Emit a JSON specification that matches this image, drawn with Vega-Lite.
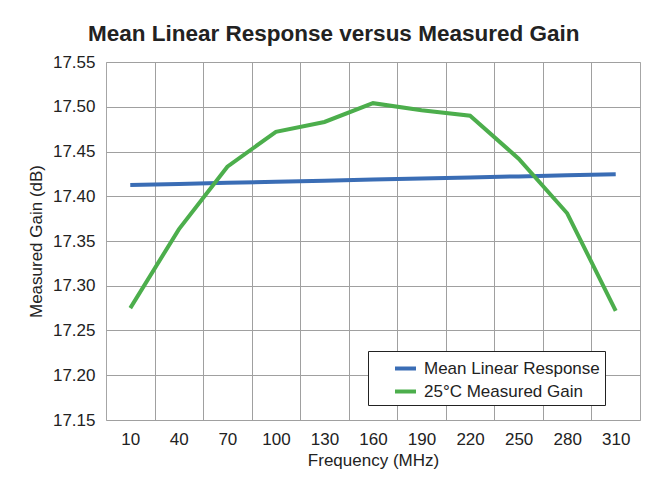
{
  "$schema": "https://vega.github.io/schema/vega-lite/v6.json",
  "width": 534,
  "height": 358,
  "autosize": {"type": "none"},
  "padding": {"left": 106, "top": 62, "right": 26, "bottom": 57},
  "background": "white",
  "config": {
    "font": "Liberation Sans",
    "view": {"stroke": "#a6a6a6", "strokeWidth": 1},
    "axis": {"labelFont": "Liberation Sans", "titleFont": "Liberation Sans", "labelColor": "#222222", "titleColor": "#222222", "gridColor": "#a0a0a0", "gridOpacity": 1, "gridWidth": 1}
  },
  "title": {"text": "Mean Linear Response versus Measured Gain", "fontSize": 22.5, "fontWeight": "bold", "font": "Liberation Sans", "color": "#222222", "anchor": "middle", "frame": "bounds", "offset": 8},
  "data": {"values": [
    {"freq": 10, "series": "Mean Linear Response", "gain": 17.4126},
    {"freq": 40, "series": "Mean Linear Response", "gain": 17.4138},
    {"freq": 70, "series": "Mean Linear Response", "gain": 17.4150},
    {"freq": 100, "series": "Mean Linear Response", "gain": 17.4162},
    {"freq": 130, "series": "Mean Linear Response", "gain": 17.4174},
    {"freq": 160, "series": "Mean Linear Response", "gain": 17.4186},
    {"freq": 190, "series": "Mean Linear Response", "gain": 17.4198},
    {"freq": 220, "series": "Mean Linear Response", "gain": 17.4210},
    {"freq": 250, "series": "Mean Linear Response", "gain": 17.4222},
    {"freq": 280, "series": "Mean Linear Response", "gain": 17.4234},
    {"freq": 310, "series": "Mean Linear Response", "gain": 17.4246},
    {"freq": 10, "series": "25°C Measured Gain", "gain": 17.275},
    {"freq": 40, "series": "25°C Measured Gain", "gain": 17.363},
    {"freq": 70, "series": "25°C Measured Gain", "gain": 17.433},
    {"freq": 100, "series": "25°C Measured Gain", "gain": 17.472},
    {"freq": 130, "series": "25°C Measured Gain", "gain": 17.483},
    {"freq": 160, "series": "25°C Measured Gain", "gain": 17.504},
    {"freq": 190, "series": "25°C Measured Gain", "gain": 17.496},
    {"freq": 220, "series": "25°C Measured Gain", "gain": 17.490},
    {"freq": 250, "series": "25°C Measured Gain", "gain": 17.442},
    {"freq": 280, "series": "25°C Measured Gain", "gain": 17.381},
    {"freq": 310, "series": "25°C Measured Gain", "gain": 17.272}
  ]},
  "layer": [
    {
      "mark": {"type": "line", "strokeWidth": 4, "clip": false},
      "encoding": {
        "x": {"field": "freq", "type": "quantitative", "scale": {"domain": [-5, 325], "nice": false, "zero": false},
              "axis": {"values": [10, 40, 70, 100, 130, 160, 190, 220, 250, 280, 310], "grid": false, "ticks": false, "domain": false, "labelFontSize": 17, "labelPadding": 11, "title": "Frequency (MHz)", "titleFontSize": 17, "titleFontWeight": "normal", "titlePadding": 5, "orient": "bottom"}},
        "y": {"field": "gain", "type": "quantitative", "scale": {"domain": [17.15, 17.55], "nice": false, "zero": false},
              "axis": {"values": [17.15, 17.2, 17.25, 17.3, 17.35, 17.4, 17.45, 17.5, 17.55], "format": ".2f", "ticks": false, "domain": false, "labelFontSize": 17, "labelPadding": 11, "title": "Measured Gain (dB)", "titleFontSize": 17, "titleFontWeight": "normal", "titlePadding": 7}},
        "color": {"field": "series", "type": "nominal",
                  "scale": {"domain": ["Mean Linear Response", "25°C Measured Gain"], "range": ["#3a6db5", "#4cae4c"]},
                  "legend": {"title": null, "orient": "none", "legendX": 262, "legendY": 289, "symbolType": "stroke", "symbolStrokeWidth": 4, "symbolSize": 441, "symbolOffset": 20, "labelFontSize": 17, "labelColor": "#222222", "labelOffset": 6, "rowPadding": 2, "padding": 5, "strokeColor": "#222222", "fillColor": "white", "labelLimit": 300}}
      }
    },
    {
      "mark": {"type": "line", "opacity": 0},
      "encoding": {
        "x": {"field": "freq", "type": "quantitative",
              "axis": {"values": [25, 55, 85, 115, 145, 175, 205, 235, 265, 295], "grid": true, "labels": false, "ticks": false, "domain": false, "title": null, "orient": "top"}},
        "y": {"field": "gain", "type": "quantitative"}
      }
    }
  ],
  "resolve": {"axis": {"x": "independent"}}
}
